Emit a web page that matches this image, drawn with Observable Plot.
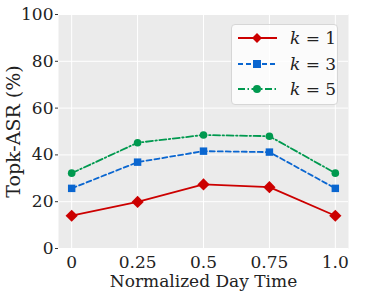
<!DOCTYPE html>
<html><head><meta charset="utf-8">
<script src="https://cdn.jsdelivr.net/npm/d3@7"></script>
<script src="https://cdn.jsdelivr.net/npm/@observablehq/plot@0.6"></script>
<style>
body{margin:0;background:#fff;}
#wrap{position:relative;width:366px;height:292px;}
#legend{position:absolute;left:231px;top:24px;width:105px;height:79px;background:rgba(255,255,255,0.8);border:1px solid #d6d6d6;border-radius:4px;font-family:"DejaVu Serif",serif;font-size:17px;color:#222;}
.row{position:absolute;left:0;height:20px;display:flex;align-items:center;}
.row svg{margin-left:6px;}
.row span{margin-left:13px;}
</style></head>
<body><div id="wrap"><div id="chart"></div><div id="legend"></div></div>
<script>
const xs = [0, 0.25, 0.5, 0.75, 1.0];
const xTickLabels = ["0", "0.25", "0.5", "0.75", "1.0"];
const yTicks = [0, 20, 40, 60, 80, 100];
const k1 = [14.0, 19.9, 27.4, 26.2, 14.0];
const k3 = [25.7, 36.9, 41.6, 41.2, 25.7];
const k5 = [32.2, 45.2, 48.5, 48.0, 32.2];
const seriesNames = ["k = 1", "k = 3", "k = 5"];
const yLabel = "Topk-ASR (%)";
const xLabel = "Normalized Day Time";
const colors = ["#cc0000", "#0a66d0", "#00994f"];
const dashes = [null, "5,3", "7,2.5,1.5,2.5"];
const symbols = ["diamond2", "square", "circle"];
const radii = [5.5, 4.2, 3.8];
const values = [k1, k3, k5];

const font = '"DejaVu Serif", serif';
const marks = [
  Plot.frame({fill: "#ebebeb", stroke: null}),
  Plot.gridX(xs, {stroke: "#fff", strokeOpacity: 1, strokeWidth: 1}),
  Plot.gridY(yTicks, {stroke: "#fff", strokeOpacity: 1, strokeWidth: 1}),
  Plot.axisY(yTicks, {tickSize: 3, tickPadding: 2, fontSize: 17, fontFamily: font, label: null, stroke: "#333"}),
  Plot.axisX(xs, {tickSize: 0, tickPadding: 7, fontSize: 17, fontFamily: font, tickFormat: (d) => xTickLabels[xs.indexOf(d)], label: null}),
  Plot.text([yLabel], {text: d => d, frameAnchor: "left", textAnchor: "middle", lineAnchor: "middle", rotate: -90, dx: -45, fontSize: 19, fontFamily: font, fill: "#222"}),
  Plot.text([xLabel], {text: d => d, frameAnchor: "bottom", textAnchor: "middle", lineAnchor: "middle", dy: 33, fontSize: 17, fontFamily: font, fill: "#222"})
];
values.forEach((vals, s) => {
  const data = xs.map((x, i) => ({x, y: vals[i]}));
  marks.push(Plot.line(data, {x: "x", y: "y", stroke: colors[s], strokeWidth: 1.8, strokeDasharray: dashes[s]}));
  marks.push(Plot.dot(data, {x: "x", y: "y", fill: colors[s], stroke: null, symbol: symbols[s], r: radii[s]}));
});
const chart = Plot.plot({
  width: 366, height: 292,
  marginLeft: 58, marginRight: 18, marginTop: 14, marginBottom: 44,
  style: {fontFamily: font, background: "#fff", color: "#222"},
  x: {domain: [-0.05, 1.05]},
  y: {domain: [0, 100]},
  marks
});
document.getElementById("chart").appendChild(chart);

const leg = document.getElementById("legend");
const sym = [
  (c) => `<path d="M19,1 L24,6 L19,11 L14,6 Z" fill="${c}"/>`,
  (c) => `<rect x="15" y="2" width="8" height="8" fill="${c}"/>`,
  (c) => `<circle cx="19" cy="6" r="4" fill="${c}"/>`
];
seriesNames.forEach((name, s) => {
  const row = document.createElement("div");
  row.className = "row";
  row.style.top = (3 + s * 25.5) + "px";
  const parts = name.split(" ");
  row.innerHTML = `<svg width="39" height="12"><line x1="0" y1="6" x2="39" y2="6" stroke="${colors[s]}" stroke-width="1.8" ${dashes[s] ? `stroke-dasharray="${dashes[s]}"` : ""}/>${sym[s](colors[s])}</svg><span><i>${parts[0]}</i> ${parts[1]} ${parts[2]}</span>`;
  leg.appendChild(row);
});
</script></body></html>
